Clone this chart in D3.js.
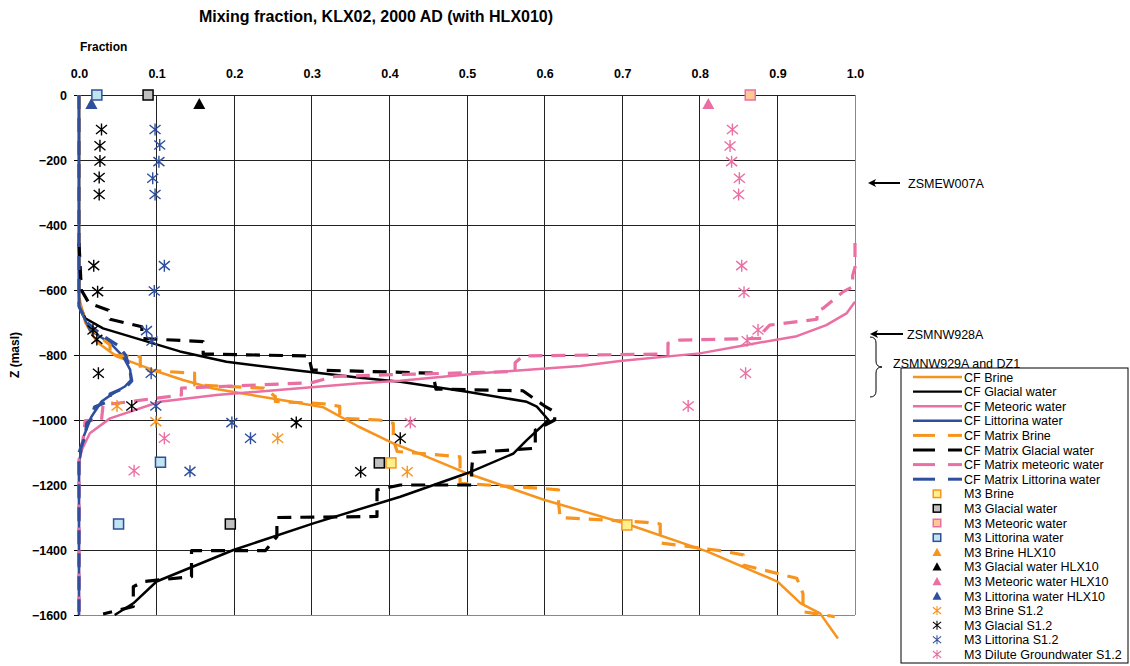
<!DOCTYPE html>
<html lang="en">
<head>
  <meta charset="UTF-8">
  <title>Mixing fraction, KLX02, 2000 AD (with HLX010)</title>
  <script src="https://d3js.org/d3.v7.min.js"></script>
  <style>
    body { margin: 0; background: white; font-family: Arial, "Liberation Sans", sans-serif; }
    .tick-label { font-size: 12.5px; font-weight: bold; }
    .note { font-size: 12.5px; }
    .legend-text { font-size: 12.5px; }
  </style>
</head>
<body>
  <div id="chart"></div>

  <script>
    // tick values
    const fractionTicks = [0, 0.1, 0.2, 0.3, 0.4, 0.5, 0.6, 0.7, 0.8, 0.9, 1.0];
    const depthTicks = [0, -200, -400, -600, -800, -1000, -1200, -1400, -1600];

    // CF curves: [fraction, z]
    const cfBrine = [[0,0],[0,-620],[0.008,-700],[0.023,-760],[0.049,-805],[0.095,-846],[0.134,-877],
      [0.173,-903],[0.259,-938],[0.315,-961],[0.36,-1020],[0.405,-1072],[0.44,-1105],[0.50,-1164],
      [0.60,-1246],[0.706,-1320],[0.81,-1405],[0.90,-1497],[0.93,-1564],[0.955,-1595],[0.978,-1672]];
    const cfGlacial = [[0,0],[0,-640],[0.008,-687],[0.031,-718],[0.074,-749],[0.13,-789],[0.19,-821],
      [0.276,-846],[0.362,-870],[0.414,-882],[0.5,-913],[0.577,-944],[0.59,-959],[0.605,-1000],
      [0.577,-1062],[0.56,-1103],[0.5,-1164],[0.414,-1236],[0.302,-1318],[0.199,-1400],[0.1,-1497],
      [0.07,-1564],[0.046,-1600]];
    const cfMeteoric = [[1.0,-636],[0.989,-672],[0.963,-708],[0.925,-742],[0.86,-769],[0.80,-795],
      [0.70,-818],[0.646,-834],[0.517,-856],[0.414,-879],[0.362,-887],[0.177,-923],[0.104,-944],
      [0.04,-995],[0.014,-1041],[0.004,-1090],[0,-1130],[0,-1600]];
    const cfLittorina = [[0,0],[0,-650],[0.002,-662],[0.014,-723],[0.04,-763],[0.057,-805],[0.066,-846],
      [0.067,-877],[0.059,-897],[0.044,-918],[0.029,-943],[0.016,-990],[0.006,-1051],[0,-1132],[0,-1600]];

    // CF Matrix curves
    const mxBrine = [[0,0],[0,-640],[0.01,-700],[0.03,-750],[0.040,-769],[0.040,-800],[0.079,-805],
      [0.079,-846],[0.149,-856],[0.149,-892],[0.238,-902],[0.253,-928],[0.253,-943],[0.315,-950],
      [0.336,-958],[0.336,-995],[0.387,-1000],[0.405,-1010],[0.405,-1060],[0.41,-1097],[0.491,-1113],
      [0.491,-1195],[0.594,-1210],[0.618,-1215],[0.618,-1256],[0.62,-1300],[0.731,-1315],[0.749,-1320],
      [0.749,-1378],[0.826,-1402],[0.856,-1415],[0.856,-1446],[0.925,-1487],[0.933,-1534],
      [0.933,-1590],[0.974,-1605]];
    const mxGlacial = [[0,-456],[0.003,-600],[0.013,-641],[0.038,-662],[0.04,-690],[0.081,-713],
      [0.081,-749],[0.160,-759],[0.160,-797],[0.296,-803],[0.30,-846],[0.456,-856],[0.46,-905],
      [0.572,-910],[0.60,-957],[0.613,-975],[0.613,-1000],[0.588,-1031],[0.588,-1087],[0.508,-1100],
      [0.506,-1154],[0.506,-1200],[0.414,-1200],[0.384,-1215],[0.384,-1297],[0.255,-1300],
      [0.255,-1359],[0.24,-1402],[0.145,-1402],[0.145,-1482],[0.083,-1497],[0.07,-1513],
      [0.07,-1574],[0.031,-1597]];
    const mxMeteoric = [[1,-455],[1,-530],[0.997,-555],[0.997,-590],[0.985,-605],[0.959,-656],
      [0.951,-668],[0.951,-690],[0.89,-708],[0.882,-728],[0.882,-749],[0.774,-754],[0.759,-764],
      [0.759,-797],[0.659,-800],[0.572,-803],[0.562,-824],[0.562,-851],[0.414,-860],[0.33,-866],
      [0.30,-885],[0.132,-902],[0.132,-923],[0.031,-954],[0.029,-1000],[0.008,-1002],[0.005,-1062],
      [0,-1113],[0,-1600]];
    const mxLittorina = [[0,0],[0,-650],[0.01,-700],[0.03,-740],[0.05,-770],[0.06,-800],[0.065,-840],
      [0.068,-880],[0.06,-900],[0.04,-920],[0.04,-940],[0.02,-960],[0.015,-1000],[0.01,-1010],
      [0.008,-1050],[0,-1100],[0,-1590]];

    // M3 points
    const m3Brine = [[0.402,-1132],[0.706,-1323]];
    const m3Glacial = [[0.089,0],[0.387,-1132],[0.195,-1320]];
    const m3Meteoric = [[0.865,0]];
    const m3Littorina = [[0.023,0],[0.105,-1130],[0.051,-1320]];
    const m3BrineHLX = [[0.016,-28]];
    const m3GlacialHLX = [[0.155,-28]];
    const m3MeteoricHLX = [[0.811,-28]];
    const m3LittorinaHLX = [[0.016,-28]];
    const m3BrineS12 = [[0.049,-957],[0.099,-1005],[0.256,-1056],[0.423,-1159]];
    const m3GlacialS12 = [[0.029,-106],[0.027,-156],[0.027,-203],[0.026,-254],[0.026,-306],
      [0.019,-525],[0.024,-605],[0.018,-723],[0.023,-752],[0.025,-856],[0.068,-957],[0.280,-1008],
      [0.414,-1056],[0.363,-1159]];
    const m3LittorinaS12 = [[0.098,-106],[0.104,-154],[0.103,-205],[0.095,-256],[0.098,-306],
      [0.110,-525],[0.097,-603],[0.087,-725],[0.094,-757],[0.093,-856],[0.099,-957],[0.197,-1008],
      [0.221,-1056],[0.143,-1158]];
    const m3DiluteS12 = [[0.842,-106],[0.839,-157],[0.841,-205],[0.851,-256],[0.850,-306],
      [0.854,-525],[0.857,-607],[0.875,-723],[0.861,-756],[0.859,-856],[0.785,-957],[0.427,-1008],
      [0.110,-1056],[0.071,-1156]];

    const orange = "#F7941D", black = "#000000", pink = "#EA6FA3", blue = "#2D4F9E";

    const lineSeries = [
      { name: "CF Brine", data: cfBrine, color: orange, dashed: false },
      { name: "CF Glacial water", data: cfGlacial, color: black, dashed: false },
      { name: "CF Meteoric water", data: cfMeteoric, color: pink, dashed: false },
      { name: "CF Littorina water", data: cfLittorina, color: blue, dashed: false },
      { name: "CF Matrix Brine", data: mxBrine, color: orange, dashed: true },
      { name: "CF Matrix Glacial water", data: mxGlacial, color: black, dashed: true },
      { name: "CF Matrix meteoric water", data: mxMeteoric, color: pink, dashed: true },
      { name: "CF Matrix Littorina water", data: mxLittorina, color: blue, dashed: true }
    ];

    const pointSeries = [
      { name: "M3 Brine", data: m3Brine, shape: "square", fill: "#FFF08C", stroke: orange },
      { name: "M3 Glacial water", data: m3Glacial, shape: "square", fill: "#C0C0C0", stroke: black },
      { name: "M3 Meteoric water", data: m3Meteoric, shape: "square", fill: "#FCC894", stroke: pink },
      { name: "M3 Littorina water", data: m3Littorina, shape: "square", fill: "#BFE3EF", stroke: blue },
      { name: "M3 Brine HLX10", data: m3BrineHLX, shape: "triangle", fill: orange },
      { name: "M3 Glacial water HLX10", data: m3GlacialHLX, shape: "triangle", fill: black },
      { name: "M3 Meteoric water HLX10", data: m3MeteoricHLX, shape: "triangle", fill: pink },
      { name: "M3 Littorina water HLX10", data: m3LittorinaHLX, shape: "triangle", fill: blue },
      { name: "M3 Brine S1.2", data: m3BrineS12, shape: "star", stroke: orange },
      { name: "M3 Glacial S1.2", data: m3GlacialS12, shape: "star", stroke: black },
      { name: "M3 Littorina S1.2", data: m3LittorinaS12, shape: "star", stroke: blue },
      { name: "M3 Dilute Groundwater S1.2", data: m3DiluteS12, shape: "star", stroke: pink }
    ];

    const W = 1130, H = 666;
    const svg = d3.select("#chart").append("svg").attr("width", W).attr("height", H);

    const x = d3.scaleLinear().domain([0, 1]).range([79, 855]);
    const y = d3.scaleLinear().domain([0, -1600]).range([95, 615]);

    // title & axis titles
    svg.append("text").attr("x", 376).attr("y", 22).attr("text-anchor", "middle")
      .style("font-size", "16px").style("font-weight", "bold")
      .text("Mixing fraction, KLX02, 2000 AD (with HLX010)");
    svg.append("text").attr("x", 80).attr("y", 51)
      .style("font-size", "12px").style("font-weight", "bold").text("Fraction");
    svg.append("text").attr("transform", "translate(19,355) rotate(-90)").attr("text-anchor", "middle")
      .style("font-size", "12px").style("font-weight", "bold").text("Z (masl)");

    // grid
    const grid = svg.append("g").attr("shape-rendering", "crispEdges");
    grid.selectAll(".vg").data(fractionTicks).enter().append("line")
      .attr("x1", d => x(d)).attr("x2", d => x(d)).attr("y1", y(0)).attr("y2", y(-1600))
      .attr("stroke", d => d === 1 ? "#888" : "#222").attr("stroke-width", 1);
    grid.selectAll(".hg").data(depthTicks).enter().append("line")
      .attr("x1", x(0)).attr("x2", x(1)).attr("y1", d => y(d)).attr("y2", d => y(d))
      .attr("stroke", d => d === -1600 ? "#888" : "#222").attr("stroke-width", 1);

    // axes
    const xAxis = svg.append("g").attr("transform", `translate(0,${y(0)})`)
      .call(d3.axisTop(x).tickValues(fractionTicks).tickFormat(d3.format(".1f")).tickSize(0).tickPadding(17));
    xAxis.select(".domain").remove();
    xAxis.selectAll("text").attr("class", "tick-label").style("font-family", "Arial, 'Liberation Sans', sans-serif");

    const yAxis = svg.append("g").attr("transform", `translate(${x(0)},0)`)
      .call(d3.axisLeft(y).tickValues(depthTicks).tickFormat(d3.format("d")).tickSize(5).tickPadding(7));
    yAxis.select(".domain").remove();
    yAxis.selectAll("text").attr("class", "tick-label").style("font-family", "Arial, 'Liberation Sans', sans-serif");

    // lines
    const line = d3.line().x(d => x(d[0])).y(d => y(d[1]));
    svg.append("g").selectAll("path").data(lineSeries).enter().append("path")
      .attr("d", d => line(d.data))
      .attr("fill", "none")
      .attr("stroke", d => d.color)
      .attr("stroke-width", d => d.dashed ? 3.2 : 2.5)
      .attr("stroke-dasharray", d => d.dashed ? "14,9" : null)
      .attr("stroke-linejoin", "round");

    // marker drawing
    const starPath = "M-5.5,-4.5L5.5,4.5M-5.5,4.5L5.5,-4.5M0,-6L0,6";
    function drawMarker(g, s, size) {
      const k = size || 1;
      if (s.shape === "square") {
        g.append("rect").attr("x", -5 * k).attr("y", -5 * k).attr("width", 10 * k).attr("height", 10 * k)
          .attr("fill", s.fill).attr("stroke", s.stroke).attr("stroke-width", 1.5);
      } else if (s.shape === "triangle") {
        g.append("path").attr("d", `M0,${-6 * k}L${6 * k},${5 * k}L${-6 * k},${5 * k}Z`).attr("fill", s.fill);
      } else {
        g.append("path").attr("d", starPath).attr("transform", `scale(${k})`)
          .attr("fill", "none").attr("stroke", s.stroke).attr("stroke-width", 1.4);
      }
    }

    pointSeries.forEach(s => {
      const g = svg.append("g");
      s.data.forEach(p => {
        drawMarker(g.append("g").attr("transform", `translate(${x(p[0])},${y(p[1])})`), s, 1);
      });
    });

    // annotations
    const ann = svg.append("g");
    function arrow(x1, x2, yy) {
      ann.append("line").attr("x1", x1).attr("x2", x2 + 3).attr("y1", yy).attr("y2", yy)
        .attr("stroke", "black").attr("stroke-width", 2);
      ann.append("path").attr("d", `M${x2},${yy}L${x2 + 8},${yy - 4}L${x2 + 6},${yy}L${x2 + 8},${yy + 4}Z`)
        .attr("fill", "black");
    }
    arrow(900, 868, 183);
    ann.append("text").attr("class", "note").attr("x", 908).attr("y", 188).text("ZSMEW007A");
    arrow(903, 870, 334);
    ann.append("text").attr("class", "note").attr("x", 907).attr("y", 339).text("ZSMNW928A");
    ann.append("path")
      .attr("d", "M870,337 Q876,337 876,343 L876,361 Q876,367 882,367 Q876,367 876,373 L876,391 Q876,397 870,397")
      .attr("fill", "none").attr("stroke", "black").attr("stroke-width", 1);
    ann.append("text").attr("class", "note").attr("x", 893).attr("y", 368).text("ZSMNW929A and DZ1");

    // legend
    const legend = svg.append("g");
    legend.append("rect").attr("x", 901).attr("y", 368).attr("width", 227).attr("height", 295)
      .attr("fill", "white").attr("stroke", "black").attr("stroke-width", 1);
    const rowY = i => 377 + i * 14.6;
    lineSeries.forEach((s, i) => {
      const yy = rowY(i);
      if (s.dashed) {
        legend.append("line").attr("x1", 913).attr("x2", 935).attr("y1", yy).attr("y2", yy)
          .attr("stroke", s.color).attr("stroke-width", 3);
        legend.append("line").attr("x1", 948).attr("x2", 962).attr("y1", yy).attr("y2", yy)
          .attr("stroke", s.color).attr("stroke-width", 3);
      } else {
        legend.append("line").attr("x1", 913).attr("x2", 962).attr("y1", yy).attr("y2", yy)
          .attr("stroke", s.color).attr("stroke-width", 2.4);
      }
      legend.append("text").attr("class", "legend-text").attr("x", 964).attr("y", yy + 4.5).text(s.name);
    });
    pointSeries.forEach((s, j) => {
      const i = j + lineSeries.length;
      const yy = rowY(i);
      drawMarker(legend.append("g").attr("transform", `translate(937,${yy})`), s, 0.75);
      legend.append("text").attr("class", "legend-text").attr("x", 964).attr("y", yy + 4.5).text(s.name);
    });
  </script>
</body>
</html>
